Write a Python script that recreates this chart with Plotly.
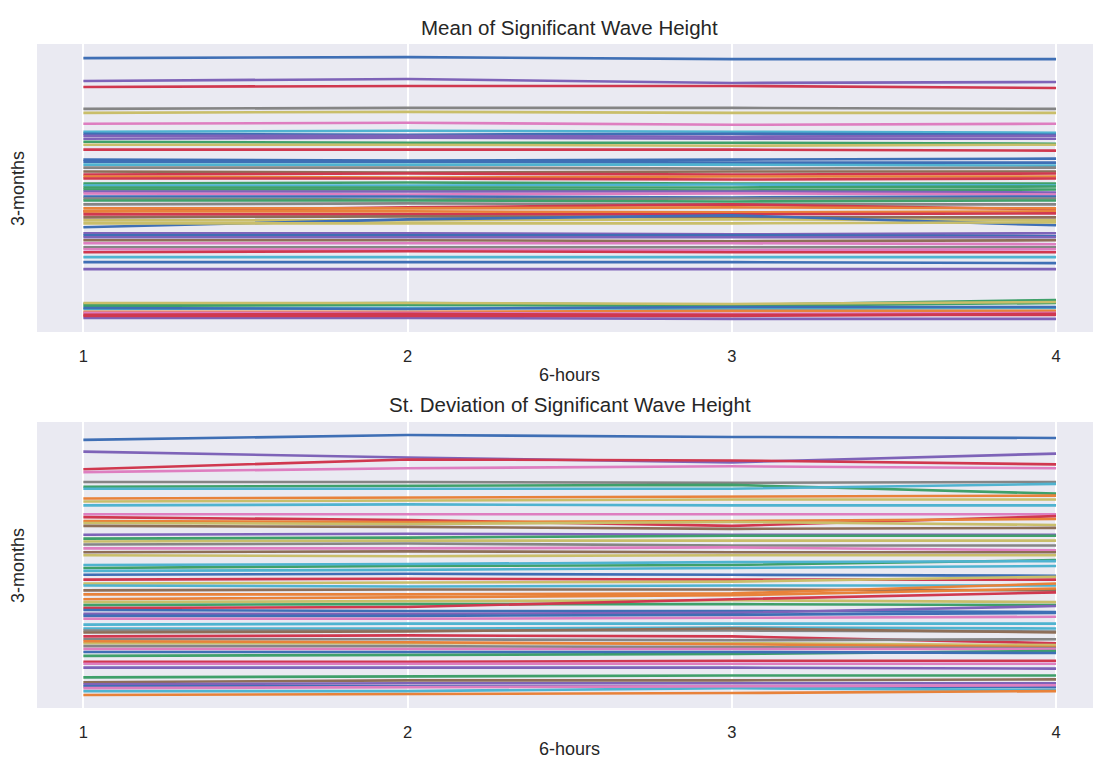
import plotly.graph_objects as go

# 6-hour steps within each 3-month block
six_hour_steps = [1, 2, 3, 4]
tick_labels = ["1", "2", "3", "4"]

# Mean significant wave height (m), one row per 3-month block
mean_hs = [
    [2.84, 2.85, 2.83, 2.83], [2.61, 2.63, 2.59, 2.60], [2.55, 2.56, 2.56, 2.54],
    [2.33, 2.34, 2.34, 2.33], [2.29, 2.30, 2.29, 2.29], [2.18, 2.19, 2.17, 2.18],
    [2.10, 2.11, 2.10, 2.09], [2.08, 2.07, 2.08, 2.07], [2.06, 2.06, 2.05, 2.06],
    [2.03, 2.04, 2.03, 2.03], [2.00, 1.99, 1.99, 1.98], [1.97, 1.97, 1.96, 1.97],
    [1.92, 1.92, 1.92, 1.91], [1.82, 1.81, 1.82, 1.83], [1.80, 1.80, 1.79, 1.79],
    [1.77, 1.77, 1.77, 1.76], [1.74, 1.74, 1.73, 1.74], [1.70, 1.69, 1.70, 1.70],
    [1.67, 1.68, 1.67, 1.68], [1.65, 1.64, 1.65, 1.65], [1.63, 1.63, 1.62, 1.63],
    [1.58, 1.59, 1.58, 1.58], [1.56, 1.56, 1.57, 1.56], [1.54, 1.54, 1.54, 1.55],
    [1.52, 1.52, 1.51, 1.52], [1.50, 1.50, 1.50, 1.49], [1.48, 1.47, 1.48, 1.47],
    [1.45, 1.45, 1.44, 1.45], [1.43, 1.42, 1.43, 1.43], [1.41, 1.41, 1.40, 1.41],
    [1.37, 1.38, 1.37, 1.37], [1.30, 1.34, 1.37, 1.32], [1.33, 1.33, 1.34, 1.33],
    [1.30, 1.30, 1.29, 1.30], [1.27, 1.27, 1.27, 1.28], [1.24, 1.25, 1.24, 1.24],
    [1.21, 1.21, 1.22, 1.21], [1.14, 1.22, 1.26, 1.16], [1.18, 1.18, 1.18, 1.19],
    [1.08, 1.08, 1.07, 1.08], [1.06, 1.06, 1.06, 1.05], [1.04, 1.04, 1.04, 1.04],
    [1.01, 1.01, 1.00, 1.01], [0.98, 0.98, 0.98, 0.97], [0.94, 0.94, 0.94, 0.94],
    [0.92, 0.92, 0.91, 0.92], [0.89, 0.90, 0.89, 0.89], [0.84, 0.84, 0.84, 0.84],
    [0.79, 0.79, 0.79, 0.78], [0.72, 0.72, 0.72, 0.72], [0.37, 0.38, 0.36, 0.41],
    [0.35, 0.36, 0.35, 0.38], [0.38, 0.38, 0.37, 0.39], [0.32, 0.33, 0.32, 0.33],
    [0.29, 0.29, 0.30, 0.30], [0.28, 0.28, 0.27, 0.28], [0.26, 0.27, 0.26, 0.26],
    [0.23, 0.23, 0.22, 0.22], [0.33, 0.32, 0.34, 0.34], [0.25, 0.25, 0.25, 0.27],
]

# Standard deviation of significant wave height (m), one row per 3-month block
std_hs = [
    [1.515, 1.54, 1.53, 1.525], [1.455, 1.425, 1.40, 1.445], [1.365, 1.415, 1.41, 1.39],
    [1.35, 1.37, 1.38, 1.37], [1.30, 1.30, 1.295, 1.30], [1.275, 1.28, 1.285, 1.24],
    [1.265, 1.265, 1.265, 1.29], [1.215, 1.22, 1.225, 1.23], [1.20, 1.205, 1.21, 1.21],
    [1.18, 1.185, 1.18, 1.18], [1.135, 1.135, 1.135, 1.135], [1.12, 1.105, 1.075, 1.125],
    [1.10, 1.095, 1.10, 1.11], [1.09, 1.085, 1.095, 1.08], [1.075, 1.07, 1.06, 1.065],
    [1.03, 1.035, 1.03, 1.03], [1.01, 1.015, 1.025, 1.025], [0.995, 1.00, 1.00, 1.00],
    [0.98, 0.985, 0.975, 0.975], [0.96, 0.96, 0.965, 0.95], [0.94, 0.945, 0.94, 0.94],
    [0.925, 0.92, 0.925, 0.925], [0.86, 0.87, 0.875, 0.90], [0.845, 0.85, 0.86, 0.87],
    [0.825, 0.83, 0.825, 0.82], [0.875, 0.88, 0.89, 0.895], [0.80, 0.805, 0.80, 0.80],
    [0.78, 0.785, 0.79, 0.815], [0.77, 0.765, 0.77, 0.77], [0.745, 0.75, 0.75, 0.745],
    [0.725, 0.725, 0.73, 0.78], [0.70, 0.71, 0.72, 0.755], [0.685, 0.69, 0.695, 0.685],
    [0.67, 0.675, 0.675, 0.67], [0.655, 0.66, 0.70, 0.735], [0.645, 0.64, 0.64, 0.635],
    [0.625, 0.625, 0.63, 0.665], [0.615, 0.615, 0.62, 0.63], [0.60, 0.60, 0.605, 0.61],
    [0.57, 0.575, 0.575, 0.575], [0.55, 0.55, 0.555, 0.55], [0.54, 0.54, 0.54, 0.535],
    [0.53, 0.535, 0.55, 0.53], [0.51, 0.515, 0.51, 0.475], [0.495, 0.495, 0.49, 0.495],
    [0.475, 0.475, 0.475, 0.465], [0.485, 0.48, 0.47, 0.455], [0.46, 0.46, 0.455, 0.45],
    [0.445, 0.445, 0.445, 0.445], [0.41, 0.415, 0.42, 0.435], [0.43, 0.43, 0.43, 0.425],
    [0.38, 0.38, 0.385, 0.385], [0.37, 0.37, 0.37, 0.37], [0.35, 0.35, 0.35, 0.345],
    [0.30, 0.305, 0.31, 0.31], [0.275, 0.285, 0.285, 0.29], [0.265, 0.27, 0.27, 0.27],
    [0.255, 0.255, 0.255, 0.25], [0.23, 0.23, 0.245, 0.235], [0.21, 0.215, 0.22, 0.23],
    [0.245, 0.25, 0.255, 0.26],
]

# line colours
palette = {
    "blue": "#3F6FB5", "orange": "#E8823A", "green": "#3FA06A", "red": "#D0384F",
    "purple": "#7E63B8", "brown": "#8E6E58", "pink": "#DE7EC0", "gray": "#858585",
    "olive": "#C9BE6A", "cyan": "#4FB3D0",
}
mean_colors = [
    "blue", "purple", "red", "gray", "olive", "pink", "cyan", "blue", "purple", "purple",
    "green", "olive", "red", "blue", "blue", "cyan", "gray", "brown", "red", "orange",
    "red", "green", "cyan", "green", "green", "purple", "pink", "blue", "gray", "green",
    "gray", "red", "orange", "orange", "red", "brown", "olive", "blue", "olive", "purple",
    "blue", "purple", "brown", "pink", "gray", "pink", "red", "cyan", "blue", "purple",
    "green", "green", "olive", "cyan", "orange", "pink", "red", "purple", "blue", "red",
]
std_colors = [
    "blue", "purple", "red", "pink", "gray", "green", "cyan", "orange", "olive", "cyan",
    "pink", "red", "orange", "olive", "brown", "purple", "green", "olive", "gray", "pink",
    "brown", "olive", "green", "cyan", "blue", "cyan", "red", "olive", "cyan", "brown",
    "orange", "orange", "olive", "green", "red", "blue", "purple", "blue", "pink", "cyan",
    "cyan", "gray", "brown", "red", "gray", "olive", "orange", "gray", "pink", "green",
    "blue", "red", "pink", "purple", "green", "brown", "purple", "blue", "cyan", "orange",
    "pink",
]

TEXT = "#262626"
FONT = "Liberation Sans, Arial, sans-serif"
LINE_W = 2.6

fig = go.Figure()

for row, color_key in zip(mean_hs, mean_colors):
    fig.add_trace(go.Scatter(x=six_hour_steps, y=row, mode="lines",
                             line=dict(color=palette[color_key], width=LINE_W),
                             xaxis="x", yaxis="y", showlegend=False))
for row, color_key in zip(std_hs, std_colors):
    fig.add_trace(go.Scatter(x=six_hour_steps, y=row, mode="lines",
                             line=dict(color=palette[color_key], width=LINE_W),
                             xaxis="x2", yaxis="y2", showlegend=False))


def padded(rows, frac=0.05):
    lo = min(min(r) for r in rows)
    hi = max(max(r) for r in rows)
    pad = (hi - lo) * frac
    return [lo - pad, hi + pad]


xaxis_style = dict(
    range=[0.857, 4.114], tickvals=six_hour_steps, ticktext=tick_labels,
    showgrid=True, gridcolor="white", gridwidth=1.5, zeroline=False,
    ticks="outside", ticklen=9, tickcolor="rgba(0,0,0,0)",
    tickfont=dict(size=16.5, color=TEXT, family=FONT), showline=False,
)
yaxis_style = dict(showticklabels=False, showgrid=False, zeroline=False, ticks="")

fig.update_layout(
    width=1093, height=758,
    margin=dict(l=37, r=0, t=44, b=50),
    paper_bgcolor="white", plot_bgcolor="#EAEAF2",
    font=dict(family=FONT, color=TEXT),
    xaxis=dict(domain=[0, 1], anchor="y", **xaxis_style),
    yaxis=dict(domain=[0.5663, 1.0], anchor="x", range=padded(mean_hs), **yaxis_style),
    xaxis2=dict(domain=[0, 1], anchor="y2", **xaxis_style),
    yaxis2=dict(domain=[0.0, 0.4307], anchor="x2", range=padded(std_hs), **yaxis_style),
)

# titles and axis labels
annotations = [
    dict(text="Mean of Significant Wave Height", x=0.5047, y=1.0256, size=20.5),
    dict(text="St. Deviation of Significant Wave Height", x=0.5047, y=0.4578, size=20.5),
    dict(text="6-hours", x=0.5047, y=0.5015, size=18),
    dict(text="6-hours", x=0.5047, y=-0.0620, size=18),
]
for a in annotations:
    fig.add_annotation(text=a["text"], x=a["x"], y=a["y"], xref="paper", yref="paper",
                       xanchor="center", yanchor="middle", showarrow=False,
                       font=dict(size=a["size"], color=TEXT, family=FONT))
for yc in [0.7831, 0.2154]:
    fig.add_annotation(text="3-months", x=-0.018, y=yc, xref="paper", yref="paper",
                       xanchor="center", yanchor="middle", showarrow=False, textangle=-90,
                       font=dict(size=18, color=TEXT, family=FONT))

fig.write_html("out.html")
